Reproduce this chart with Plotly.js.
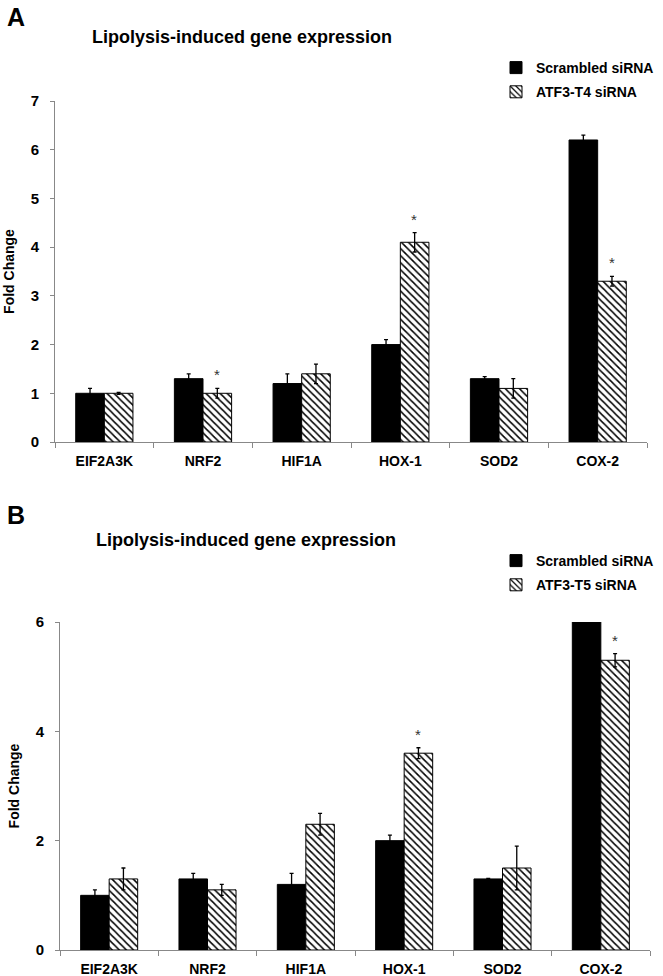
<!DOCTYPE html>
<html>
<head>
<meta charset="utf-8">
<script src="https://cdn.plot.ly/plotly-3.0.1.min.js"></script>
<style>html,body{margin:0;padding:0;background:#fff;}#chart{width:663px;height:976px;}</style>
</head>
<body>
<div id="chart"></div>
<script>
const genes = ["EIF2A3K", "NRF2", "HIF1A", "HOX-1", "SOD2", "COX-2"];

// Panel A
const scrambledA = [1.0, 1.3, 1.2, 2.0, 1.3, 6.2];
const scrambledAErr = [0.1, 0.1, 0.2, 0.1, 0.04, 0.1];
const t4A = [1.0, 1.0, 1.4, 4.1, 1.1, 3.3];
const t4AErr = [0.02, 0.1, 0.2, 0.2, 0.2, 0.1];
const starsA = ["", "*", "", "*", "", "*"];

// Panel B
const scrambledB = [1.0, 1.3, 1.2, 2.0, 1.3, 6.2];
const scrambledBErr = [0.1, 0.1, 0.2, 0.1, 0.01, 0.1];
const t5B = [1.3, 1.1, 2.3, 3.6, 1.5, 5.3];
const t5BErr = [0.2, 0.1, 0.2, 0.1, 0.4, 0.12];
const starsB = ["", "", "", "*", "", "*"];

const FONT = "Liberation Sans, Arial, sans-serif";
const solid = {color: "#000", line: {color: "#000", width: 1}};
const hatch = {color: "#fff", line: {color: "#000", width: 1},
  pattern: {shape: "\\", fgcolor: "#000", bgcolor: "#fff", size: 5, solidity: 0.3}};
const errStyle = (arr) => ({type: "data", array: arr, visible: true, color: "#000", thickness: 1.3, width: 2});

const traces = [
  {type: "bar", x: genes, y: scrambledA, name: "Scrambled siRNA", marker: solid,
   error_y: errStyle(scrambledAErr), xaxis: "x", yaxis: "y", legend: "legend", legendgroup: "a1"},
  {type: "bar", x: genes, y: t4A, name: "ATF3-T4 siRNA", marker: hatch,
   error_y: errStyle(t4AErr), xaxis: "x", yaxis: "y", legend: "legend", legendgroup: "a2"},
  {type: "bar", x: genes, y: scrambledB, name: "Scrambled siRNA", marker: solid,
   error_y: errStyle(scrambledBErr), xaxis: "x2", yaxis: "y2", legend: "legend2", legendgroup: "b1"},
  {type: "bar", x: genes, y: t5B, name: "ATF3-T5 siRNA", marker: hatch,
   error_y: errStyle(t5BErr), xaxis: "x2", yaxis: "y2", legend: "legend2", legendgroup: "b2"}
];

const annotations = [];
function addStars(stars, vals, errs, xref, yref) {
  stars.forEach((s, i) => {
    if (!s) return;
    annotations.push({x: genes[i], y: vals[i] + errs[i], xref: xref, yref: yref, text: s,
      showarrow: false, xshift: 14, yshift: 3, yanchor: "bottom",
      font: {family: FONT, size: 15, color: "#333"}});
  });
}
addStars(starsA, t4A, t4AErr, "x", "y");
addStars(starsB, t5B, t5BErr, "x2", "y2");

const titleFont = {family: FONT, size: 18, color: "#000", weight: "bold"};
annotations.push(
  {x: 242, y: 37, text: "Lipolysis-induced gene expression", showarrow: false},
  {x: 246, y: 540, text: "Lipolysis-induced gene expression", showarrow: false},
  {x: 16, y: 17, text: "<b>A</b>", showarrow: false, font: {family: FONT, size: 25, color: "#000"}},
  {x: 16, y: 515, text: "<b>B</b>", showarrow: false, font: {family: FONT, size: 25, color: "#000"}}
);
// convert pixel positions for titles/letters into paper coordinates
const W = 663, H = 976;
annotations.slice(-4).forEach((a, k) => {
  a.xref = "paper"; a.yref = "paper";
  a.x = a.x / W; a.y = 1 - a.y / H;
  a.xanchor = "center"; a.yanchor = "middle";
  if (k < 2) a.font = titleFont;
});

const axisY = {showline: true, linecolor: "#888", linewidth: 1, ticks: "outside", ticklen: 4,
  tickcolor: "#888", showgrid: false, zeroline: false,
  tickfont: {family: FONT, size: 15, color: "#000", weight: "bold"}, ticklabelstandoff: 8,
  title: {text: "<b>Fold Change</b>", font: {family: FONT, size: 14, color: "#000"}, standoff: 12}};
const axisX = {showline: true, linecolor: "#888", linewidth: 1, ticks: "outside", ticklen: 5,
  tickcolor: "#888", tickson: "boundaries", showgrid: false,
  tickfont: {family: FONT, size: 14, color: "#000", weight: "bold"}, ticklabelstandoff: 6};

const legendFont = {family: FONT, size: 14, color: "#000", weight: "bold"};
const layout = {
  width: 663, height: 976,
  margin: {l: 0, r: 0, t: 0, b: 0},
  paper_bgcolor: "#fff", plot_bgcolor: "#fff",
  barmode: "group", bargap: 0.42, bargroupgap: 0,
  xaxis: Object.assign({}, axisX, {domain: [55 / W, 647 / W], anchor: "y"}),
  yaxis: Object.assign({}, axisY, {domain: [1 - 442 / H, 1 - 101 / H], range: [0, 7], dtick: 1, anchor: "x"}),
  xaxis2: Object.assign({}, axisX, {domain: [60 / W, 650 / W], anchor: "y2"}),
  yaxis2: Object.assign({}, axisY, {domain: [1 - 950 / H, 1 - 622 / H], range: [0, 6], dtick: 2, anchor: "x2"}),
  legend: {x: 496 / W, y: 1 - 52 / H, xanchor: "left", yanchor: "top", bgcolor: "rgba(0,0,0,0)",
    font: legendFont, itemwidth: 30, traceorder: "grouped", tracegroupgap: 3},
  legend2: {x: 496 / W, y: 1 - 545 / H, xanchor: "left", yanchor: "top", bgcolor: "rgba(0,0,0,0)",
    font: legendFont, itemwidth: 30, traceorder: "grouped", tracegroupgap: 3},
  annotations: annotations,
  showlegend: true
};

Plotly.newPlot("chart", traces, layout, {displayModeBar: false, staticPlot: true});
</script>
</body>
</html>
